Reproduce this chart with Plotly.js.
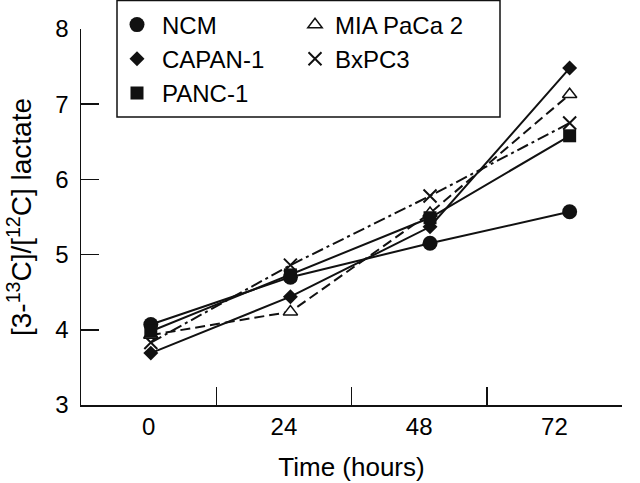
<!DOCTYPE html>
<html><head><meta charset="utf-8">
<script src="https://cdn.plot.ly/plotly-3.0.1.min.js"></script>
<style>html,body{margin:0;padding:0;background:#fff}#chart{width:640px;height:483px}</style>
</head><body><div id="chart"></div>
<script>
// ---- data ----
const hours = [0, 24, 48, 72];
const timeLabels = ['0', '24', '48', '72'];
const ncm = [4.07, 4.70, 5.15, 5.57];
const capan1 = [3.69, 4.44, 5.37, 7.48];
const panc1 = [3.98, 4.73, 5.49, 6.58];
const miaPaCa2 = [3.93, 4.24, 5.55, 7.13];
const bxpc3 = [3.83, 4.86, 5.78, 6.75];
const yTicks = [3, 4, 5, 6, 7, 8];
const names = ['NCM', 'CAPAN-1', 'PANC-1', 'MIA PaCa 2', 'BxPC3'];

const FONT = 'Liberation Sans, Arial, sans-serif';
const INK = '#111';

const styles = {
  'NCM':        {symbol: 'circle',      size: 15, color: INK, line: {width: 0}, dash: 'solid', legend: 'legend'},
  'CAPAN-1':    {symbol: 'diamond',     size: 11.5, color: INK, line: {width: 0}, dash: 'solid', legend: 'legend'},
  'PANC-1':     {symbol: 'square',      size: 13, color: INK, line: {width: 0}, dash: 'solid', legend: 'legend'},
  'MIA PaCa 2': {symbol: 'triangle-up', size: 12.5, color: '#fff', line: {width: 1.5, color: INK}, dash: '10px,5px', legend: 'legend2'},
  'BxPC3':      {symbol: 'x-thin-open', size: 13, color: INK, line: {width: 2, color: INK}, dash: '12px,4px,3px,4px', legend: 'legend2'}
};
const series = {'NCM': ncm, 'CAPAN-1': capan1, 'PANC-1': panc1, 'MIA PaCa 2': miaPaCa2, 'BxPC3': bxpc3};

const drawOrder = ['BxPC3', 'CAPAN-1', 'MIA PaCa 2', 'NCM', 'PANC-1'];
const traces = [];
drawOrder.forEach(n => {
  const s = styles[n];
  traces.push({
    x: hours, y: series[n], type: 'scatter', mode: 'lines+markers', name: n,
    showlegend: false, hoverinfo: 'skip',
    line: {color: INK, width: 2, dash: s.dash},
    marker: {symbol: s.symbol, size: s.size, color: s.color, line: s.line}
  });
});
// legend-only entries (markers only, as in the reference)
names.forEach(n => {
  const s = styles[n];
  traces.push({
    x: [null], y: [null], type: 'scatter', mode: 'markers', name: n,
    legend: s.legend, showlegend: true, hoverinfo: 'skip',
    marker: {symbol: s.symbol, size: s.size, color: s.color, line: s.line}
  });
});
// category axis carrying the time labels
traces.push({x: timeLabels, y: [null, null, null, null], xaxis: 'x2', type: 'scatter', mode: 'markers', showlegend: false, hoverinfo: 'skip'});

const W = 640, H = 483, L = 81, R = 18, T = 29, B = 78;
const pw = W - L - R, ph = H - T - B;
const px = v => (v - L) / pw;
const py = v => (H - B - v) / ph;

const axisCommon = {
  ticks: 'inside', ticklen: 18, tickwidth: 1.5, tickcolor: INK,
  showline: true, linecolor: INK, linewidth: 1.5,
  showgrid: false, zeroline: false, fixedrange: true,
  tickfont: {family: FONT, size: 24, color: '#000'}
};

const layout = {
  width: W, height: H,
  margin: {l: L, r: R, t: T, b: B, autoexpand: false},
  paper_bgcolor: '#fff', plot_bgcolor: '#fff',
  font: {family: FONT, size: 24, color: '#000'},
  showlegend: true,
  xaxis: {range: [-12, 81], visible: false, fixedrange: true},
  xaxis2: Object.assign({}, axisCommon, {
    overlaying: 'x', anchor: 'y', side: 'bottom', type: 'category',
    categoryorder: 'array', categoryarray: timeLabels, range: [-0.5, 3.5],
    tickson: 'boundaries', ticklabelstandoff: 0,
    title: {text: 'Time (hours)', font: {family: FONT, size: 26, color: '#000'}, standoff: 18}
  }),
  yaxis: Object.assign({}, axisCommon, {
    range: [3, 8], tickvals: yTicks, ticklabelstandoff: 6,
    title: {text: '[3-<sup>13</sup>C]/[<sup>12</sup>C] lactate', font: {family: FONT, size: 28, color: '#000'}, standoff: 15}
  }),
  legend: {x: px(112), xanchor: 'left', y: py(2.5), yanchor: 'top', orientation: 'v', itemwidth: 40,
           bgcolor: 'rgba(0,0,0,0)', borderwidth: 0, font: {family: FONT, size: 24, color: '#000'}},
  legend2: {x: px(295), xanchor: 'left', y: py(2.5), yanchor: 'top', orientation: 'v',
            bgcolor: 'rgba(0,0,0,0)', borderwidth: 0, font: {family: FONT, size: 24, color: '#000'}},
  shapes: [{type: 'rect', xref: 'paper', yref: 'paper', x0: px(117), x1: px(500), y0: py(117), y1: py(0.5),
            line: {color: INK, width: 1.5}, fillcolor: 'rgba(0,0,0,0)', layer: 'below'}]
};

Plotly.newPlot('chart', traces, layout, {displayModeBar: false, staticPlot: true});
</script>
</body></html>
